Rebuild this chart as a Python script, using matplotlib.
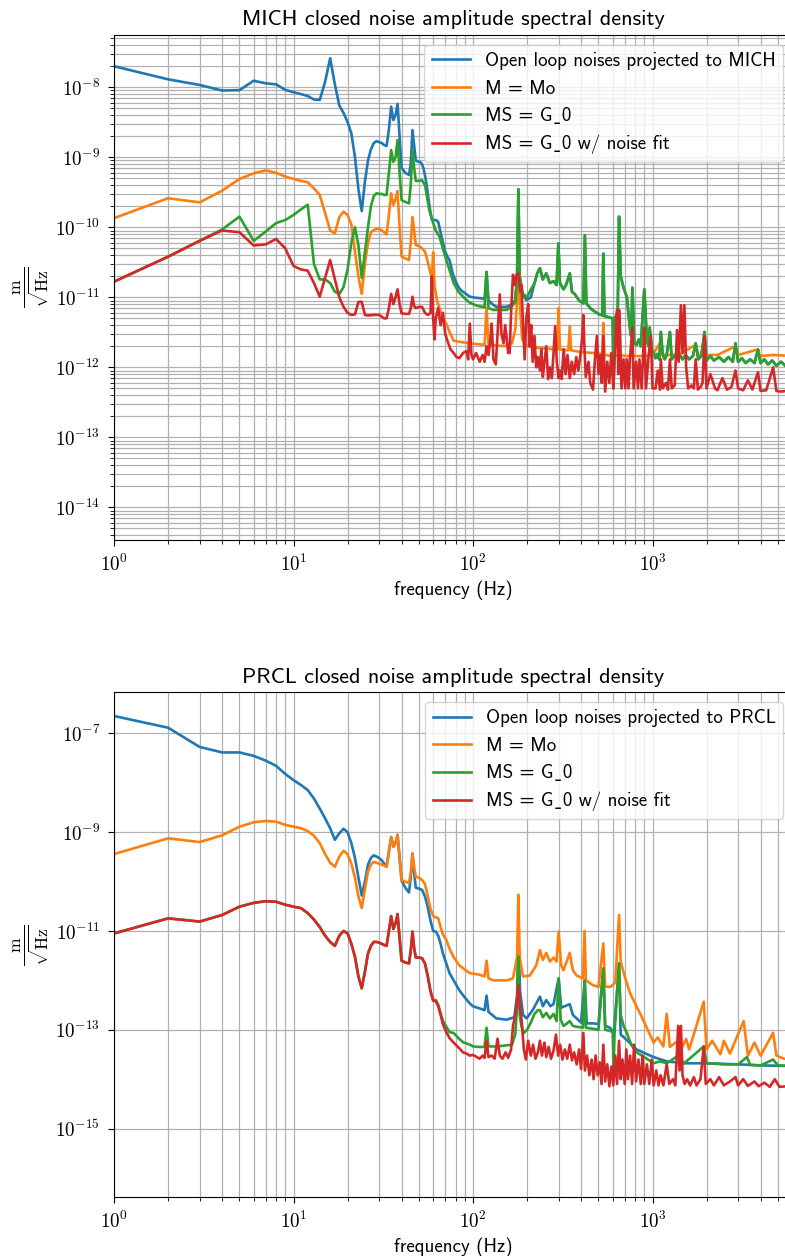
import numpy as np
import matplotlib
matplotlib.use("Agg")
import matplotlib.pyplot as plt
from matplotlib.ticker import FuncFormatter, LogLocator, FixedLocator, NullLocator, NullFormatter

# ---------------- MICH panel data (frequency Hz, amplitude m/rtHz) ----------------
mich_open_loop_low = [
    (1, 2.0e-8), (2, 1.3e-8), (3, 1.08e-8), (4, 9.0e-9), (5, 9.1e-9), (6, 1.24e-8),
    (7, 1.14e-8), (8, 1.1e-8), (9, 9.2e-9), (10, 8.5e-9), (11, 8.0e-9), (12, 7.5e-9),
    (13, 6.7e-9), (14, 6.6e-9), (15, 1.2e-8), (16, 2.6e-8), (17, 1.1e-8), (18, 5.5e-9),
    (19, 4.3e-9), (20, 3.2e-9), (21, 2.2e-9), (22, 1.0e-9), (23, 3.5e-10), (24, 1.7e-10),
    (25, 4.5e-10), (26, 9.0e-10), (27, 1.3e-9), (28, 1.6e-9), (29, 1.7e-9), (30, 1.65e-9),
    (31, 1.6e-9), (32, 1.5e-9), (33, 1.45e-9), (34, 2.5e-9), (35, 5.3e-9), (36, 3.4e-9),
    (37, 4.0e-9), (38, 5.8e-9), (39, 2.0e-9), (40, 7.0e-10), (41, 6.5e-10), (42, 6.0e-10),
    (43, 5.8e-10), (44, 5.6e-10), (45, 8.0e-10), (46, 2.45e-9), (47, 1.5e-9), (48, 9.0e-10),
    (49, 8.8e-10), (50, 8.6e-10), (51, 8.5e-10), (52, 8.0e-10), (53, 7.0e-10), (54, 5.5e-10),
    (55, 4.2e-10), (56, 3.0e-10), (57, 2.2e-10), (58, 1.6e-10), (59, 1.3e-10), (60, 1.27e-10),
    (62, 1.27e-10), (64, 1.2e-10), (66, 8.5e-11), (68, 6.0e-11), (70, 4.5e-11), (72, 3.8e-11),
    (74, 3.4e-11), (77, 2.2e-11), (80, 1.7e-11), (83, 1.4e-11), (86, 1.25e-11), (90, 1.15e-11),
    (96, 1.02e-11), (100, 1.0e-11), (105, 9.8e-12), (110, 9.7e-12), (116, 9.5e-12),
    (119, 2.3e-11), (122, 9.0e-12), (128, 8.0e-12), (135, 7.3e-12), (145, 7.3e-12),
    (154, 7.3e-12), (160, 7.6e-12), (167, 8.4e-12), (172, 9.0e-12), (176, 2.0e-11),
    (179, 3.5e-10), (182, 2.0e-11), (188, 1.1e-11), (199, 9.1e-12), (210, 1.0e-11),
]

mich_ms_g0 = [
    (1, 1.67e-11), (2, 3.8e-11), (3, 6.4e-11), (4, 9.3e-11), (5, 1.42e-10), (6, 6.4e-11),
    (7, 8.7e-11), (8, 1.15e-10), (9, 1.27e-10), (10, 1.5e-10), (11, 1.8e-10), (12, 2.1e-10),
    (13, 3.0e-11), (14, 1.8e-11), (15, 1.8e-11), (16, 1.6e-11), (17, 1.2e-11), (18, 1.12e-11),
    (19, 1.4e-11), (20, 2.5e-11), (21, 6.0e-11), (22, 1.0e-10), (23, 5.5e-11), (24, 1.9e-11),
    (25, 4.5e-11), (26, 1.0e-10), (27, 2.0e-10), (28, 2.8e-10), (29, 3.06e-10), (30, 3.0e-10),
    (31, 3.0e-10), (32, 2.9e-10), (33, 2.9e-10), (34, 6.0e-10), (35, 1.27e-9), (36, 8.6e-10),
    (37, 1.0e-9), (38, 1.77e-9), (39, 6.0e-10), (40, 2.45e-10), (42, 2.3e-10), (44, 2.2e-10),
    (45, 4.0e-10), (46, 1.27e-9), (47, 7.0e-10), (48, 4.6e-10), (50, 4.6e-10), (52, 4.7e-10),
    (54, 4.0e-10), (55, 3.06e-10), (57, 1.8e-10), (60, 1.15e-10), (62, 9.0e-11), (65, 7.4e-11),
    (68, 5.0e-11), (71, 3.4e-11), (75, 2.2e-11), (78, 1.6e-11), (83, 1.2e-11), (88, 1.02e-11),
    (95, 8.5e-12), (100, 8.0e-12), (105, 7.6e-12), (110, 7.4e-12), (116, 7.2e-12),
    (119, 2.3e-11), (122, 7.0e-12), (130, 6.6e-12), (140, 6.6e-12), (154, 6.6e-12),
    (165, 7.5e-12), (172, 8.5e-12), (176, 2.0e-11), (179, 3.5e-10), (182, 2.0e-11),
    (190, 1.12e-11), (200, 1.0e-11), (210, 1.3e-11), (220, 1.58e-11), (228, 2.2e-11),
    (236, 2.6e-11), (245, 1.8e-11), (256, 2.2e-11), (268, 1.6e-11), (281, 1.7e-11),
    (292, 1.5e-11), (299, 5.9e-11), (305, 1.6e-11), (319, 1.3e-11), (330, 1.5e-11),
    (346, 2.2e-11), (356, 1.2e-11), (370, 1.1e-11), (390, 9.0e-12), (412, 8.2e-12),
    (420, 7.7e-11), (428, 8.2e-12), (450, 7.0e-12), (466, 6.5e-12), (500, 5.8e-12),
    (525, 5.5e-12), (532, 4.2e-11), (540, 5.4e-12), (570, 5.2e-12), (600, 5.0e-12),
    (607, 5.0e-13), (615, 5.0e-12), (640, 6.0e-12), (651, 1.42e-10), (665, 2.0e-11),
    (690, 1.37e-11), (720, 1.0e-11), (745, 4.0e-12), (760, 2.8e-12), (773, 1.37e-11),
    (790, 2.2e-12), (815, 2.1e-12), (840, 2.5e-12), (860, 2.0e-12), (900, 1.3e-11),
    (930, 2.5e-12), (950, 2.0e-12), (965, 3.7e-12), (990, 1.8e-12), (1014, 1.6e-12),
    (1040, 1.35e-12), (1060, 1.55e-12), (1090, 1.3e-12), (1113, 3.2e-12), (1140, 1.5e-12),
    (1170, 1.3e-12), (1200, 1.5e-12), (1250, 3.2e-12), (1280, 1.3e-12), (1330, 1.5e-12),
    (1370, 1.3e-12), (1420, 1.5e-12), (1470, 1.3e-12), (1530, 1.5e-12), (1600, 1.3e-12),
    (1680, 1.45e-12), (1740, 2.2e-12), (1800, 1.3e-12), (1870, 1.45e-12), (1950, 3.2e-12),
    (2000, 1.25e-12), (2100, 1.45e-12), (2200, 1.25e-12), (2350, 1.4e-12), (2500, 1.2e-12),
    (2650, 1.4e-12), (2800, 1.2e-12), (2900, 2.2e-12), (3000, 1.2e-12), (3150, 1.35e-12),
    (3300, 1.15e-12), (3500, 1.3e-12), (3700, 1.15e-12), (3870, 1.8e-12), (4000, 1.15e-12),
    (4200, 1.3e-12), (4400, 1.1e-12), (4650, 1.25e-12), (4900, 1.05e-12), (5200, 1.2e-12),
    (5500, 1.05e-12), (5800, 1.15e-12), (6100, 1.05e-12),
]

mich_m_mo = [
    (1, 1.35e-10), (2, 2.6e-10), (3, 2.27e-10), (4, 3.33e-10), (5, 4.9e-10), (6, 5.9e-10),
    (7, 6.5e-10), (8, 6.0e-10), (9, 5.3e-10), (10, 4.9e-10), (11, 4.6e-10), (12, 4.4e-10),
    (13, 3.6e-10), (14, 2.9e-10), (15, 1.6e-10), (16, 9.0e-11), (17, 8.2e-11), (18, 1.4e-10),
    (19, 1.67e-10), (20, 1.5e-10), (21, 1.1e-10), (22, 4.5e-11), (23, 2.0e-11), (24, 1.12e-11),
    (25, 3.0e-11), (26, 6.0e-11), (27, 8.5e-11), (28, 9.1e-11), (29, 9.5e-11), (30, 9.5e-11),
    (31, 9.0e-11), (32, 8.5e-11), (33, 7.9e-11), (34, 1.5e-10), (35, 3.06e-10), (36, 2.1e-10),
    (37, 2.5e-10), (38, 3.3e-10), (39, 1.0e-10), (40, 3.8e-11), (42, 3.6e-11), (44, 3.4e-11),
    (45, 6.0e-11), (46, 1.4e-10), (47, 9.0e-11), (48, 5.6e-11), (50, 5.4e-11), (52, 5.0e-11),
    (54, 4.5e-11), (56, 3.2e-11), (58, 2.2e-11), (59, 2.0e-11), (60, 4.4e-11), (61, 1.5e-11),
    (63, 9.0e-12), (65, 7.0e-12), (68, 5.0e-12), (71, 4.2e-12), (74, 3.2e-12), (78, 2.4e-12),
    (85, 2.3e-12), (96, 2.2e-12), (105, 2.15e-12), (116, 2.1e-12), (119, 7.0e-12),
    (122, 2.1e-12), (135, 2.05e-12), (150, 2.0e-12), (165, 2.2e-12), (172, 3.5e-12),
    (176, 9.0e-12), (179, 2.1e-11), (183, 7.0e-12), (188, 2.5e-12), (200, 2.0e-12),
    (225, 1.9e-12), (260, 1.85e-12), (295, 1.8e-12), (300, 7.0e-12), (305, 1.8e-12),
    (340, 1.75e-12), (346, 3.9e-12), (352, 1.75e-12), (400, 1.65e-12), (466, 1.6e-12),
    (525, 1.55e-12), (532, 4.3e-12), (540, 1.5e-12), (600, 1.45e-12), (651, 1.5e-12),
    (720, 1.45e-12), (800, 1.45e-12), (900, 1.45e-12), (1000, 1.5e-12), (1100, 2.2e-12),
    (1150, 1.5e-12), (1400, 1.5e-12), (1740, 2.1e-12), (1800, 1.5e-12), (2300, 1.5e-12),
    (2900, 2.0e-12), (3000, 1.5e-12), (3870, 1.8e-12), (3950, 1.45e-12), (4700, 1.5e-12),
    (6100, 1.45e-12),
]

mich_ms_g0_fit = [
    (1, 1.67e-11), (2, 3.8e-11), (3, 6.4e-11), (4, 9.0e-11), (5, 8.5e-11), (6, 5.5e-11),
    (7, 5.7e-11), (8, 6.8e-11), (9, 5.0e-11), (10, 2.8e-11), (11, 2.5e-11), (12, 2.4e-11),
    (13, 1.6e-11), (14, 1.02e-11), (15, 1.9e-11), (16, 3.4e-11), (17, 1.8e-11), (18, 1.0e-11),
    (19, 7.3e-12), (20, 6.0e-12), (21, 5.6e-12), (22, 5.7e-12), (23, 8.6e-12), (24, 8.6e-12),
    (25, 5.6e-12), (26, 5.5e-12), (28, 5.6e-12), (30, 5.6e-12), (32, 5.0e-12), (33, 5.0e-12),
    (34, 7.0e-12), (35, 1.12e-11), (36, 8.0e-12), (37, 1.0e-11), (38, 1.3e-11), (39, 8.0e-12),
    (40, 5.9e-12), (42, 5.8e-12), (44, 5.8e-12), (45, 7.0e-12), (46, 1.02e-11), (47, 7.5e-12),
    (48, 7.0e-12), (50, 7.3e-12), (52, 7.3e-12), (54, 6.0e-12), (56, 5.6e-12), (58, 6.0e-12),
    (59, 2.0e-11), (60, 5.0e-12), (61, 2.5e-12), (62, 5.0e-12), (64, 7.0e-12), (66, 4.0e-12),
    (68, 6.0e-12), (70, 3.0e-12), (72, 2.4e-12), (75, 1.8e-12), (78, 1.6e-12), (81, 1.4e-12),
    (84, 1.35e-12), (88, 1.6e-12), (92, 1.7e-12), (94, 1.3e-12), (96, 4.2e-12), (98, 1.5e-12),
    (100, 1.3e-12), (104, 1.6e-12), (109, 1.2e-12), (113, 1.5e-12), (116, 1.2e-12),
    (119, 2.0e-12), (122, 1.5e-12), (125, 2.5e-12), (127, 4.2e-12), (130, 1.3e-12),
    (134, 1.1e-12), (137, 3.0e-12), (141, 1.1e-11), (144, 3.0e-12), (148, 2.2e-12),
    (151, 4.0e-12), (154, 2.6e-12), (157, 1.6e-12), (160, 1.6e-12), (163, 6.0e-12),
    (167, 2.1e-11), (171, 1.5e-11), (175, 2.1e-11), (179, 2.2e-11), (183, 1.2e-11),
    (186, 1.5e-11), (190, 4.0e-12), (194, 1.3e-12), (198, 5.0e-12), (203, 8.0e-12),
    (207, 2.0e-12), (211, 4.0e-12), (215, 1.2e-12), (220, 2.8e-12), (225, 1.0e-12),
    (230, 1.4e-12), (236, 9.0e-13), (240, 1.8e-12), (245, 7.3e-13), (250, 1.2e-12),
    (256, 2.0e-12), (262, 6.8e-13), (268, 1.0e-12), (275, 7.0e-13), (281, 1.6e-12),
    (287, 3.9e-12), (293, 1.2e-12), (300, 7.0e-13), (305, 9.0e-13), (312, 6.8e-13),
    (320, 1.8e-12), (328, 8.0e-13), (336, 1.5e-12), (346, 7.0e-13), (355, 1.2e-12),
    (366, 8.0e-13), (376, 1.4e-12), (386, 9.0e-13), (398, 1.6e-12), (405, 2.5e-12),
    (412, 5.6e-12), (418, 1.8e-12), (425, 7.3e-13), (440, 1.2e-12), (450, 6.0e-13),
    (466, 4.8e-13), (478, 1.3e-12), (490, 2.8e-12), (500, 8.0e-13), (512, 1.5e-12),
    (522, 6.0e-13), (532, 2.8e-12), (545, 4.5e-13), (560, 1.2e-12), (575, 6.0e-13),
    (590, 1.6e-12), (605, 5.0e-13), (615, 1.3e-12), (625, 3.5e-12), (635, 6.6e-12),
    (645, 8.0e-13), (651, 6.6e-12), (660, 3.0e-12), (672, 5.0e-13), (690, 1.3e-12),
    (705, 5.0e-13), (720, 1.3e-12), (735, 5.0e-13), (750, 1.4e-12), (773, 3.7e-12),
    (785, 5.0e-13), (810, 1.2e-12), (830, 5.0e-13), (845, 1.3e-12), (870, 5.0e-13),
    (900, 3.7e-12), (920, 5.0e-13), (950, 1.4e-12), (980, 2.8e-12), (1000, 5.0e-13),
    (1040, 5.0e-13), (1070, 9.0e-13), (1100, 4.8e-13), (1113, 1.3e-12), (1140, 5.0e-13),
    (1190, 6.0e-13), (1220, 4.8e-13), (1250, 1.3e-12), (1280, 5.0e-13), (1330, 5.5e-13),
    (1370, 3.4e-12), (1400, 1.2e-12), (1440, 7.7e-12), (1470, 1.6e-12), (1505, 7.7e-12),
    (1540, 1.0e-12), (1580, 5.0e-13), (1650, 5.5e-13), (1700, 5.0e-13), (1740, 1.3e-12),
    (1790, 4.8e-13), (1850, 5.2e-13), (1900, 6.0e-13), (1950, 2.8e-12), (2000, 5.0e-13),
    (2100, 8.0e-13), (2230, 5.0e-13), (2300, 4.7e-13), (2450, 7.0e-13), (2600, 4.8e-13),
    (2750, 5.2e-13), (2900, 9.0e-13), (3000, 5.0e-13), (3200, 4.7e-13), (3400, 6.5e-13),
    (3600, 4.8e-13), (3870, 8.5e-13), (4000, 4.6e-13), (4300, 4.7e-13), (4700, 1.0e-12),
    (4900, 4.6e-13), (5200, 4.5e-13), (5600, 4.6e-13), (6100, 4.5e-13),
]

# ---------------- PRCL panel data ----------------
prcl_open_loop = [
    (1, 2.24e-7), (2, 1.3e-7), (3, 5.3e-8), (4, 4.1e-8), (5, 4.1e-8), (6, 3.5e-8),
    (7, 2.8e-8), (8, 2.2e-8), (9, 1.5e-8), (10, 1.13e-8), (11, 9.0e-9), (12, 7.1e-9),
    (13, 4.8e-9), (14, 3.0e-9), (15, 1.9e-9), (16, 1.2e-9), (17, 7.0e-10), (18, 9.5e-10),
    (19, 1.17e-9), (20, 1.0e-9), (21, 6.0e-10), (22, 3.0e-10), (23, 1.2e-10), (24, 5.2e-11),
    (25, 1.0e-10), (26, 2.2e-10), (27, 3.0e-10), (28, 3.4e-10), (29, 3.2e-10), (30, 3.0e-10),
    (31, 2.7e-10), (32, 2.3e-10), (33, 2.0e-10), (34, 4.0e-10), (35, 8.0e-10), (36, 5.1e-10),
    (37, 6.0e-10), (38, 8.8e-10), (39, 3.0e-10), (40, 1.05e-10), (42, 7.5e-11), (44, 6.0e-11),
    (45, 1.2e-10), (46, 3.7e-10), (47, 1.5e-10), (48, 7.5e-11), (50, 7.2e-11), (52, 6.8e-11),
    (54, 5.0e-11), (56, 3.0e-11), (58, 1.6e-11), (60, 1.0e-11), (62, 9.7e-12), (64, 8.0e-12),
    (66, 5.5e-12), (68, 3.5e-12), (71, 2.2e-12), (74, 1.4e-12), (78, 1.0e-12), (84, 6.3e-13),
    (88, 5.0e-13), (96, 3.4e-13), (100, 3.0e-13), (109, 2.7e-13), (116, 2.5e-13),
    (119, 4.9e-13), (122, 2.3e-13), (135, 1.7e-13), (154, 1.6e-13), (170, 1.8e-13),
    (176, 5.0e-13), (179, 7.0e-12), (183, 6.0e-13), (190, 2.0e-13), (199, 1.7e-13),
    (215, 2.5e-13), (236, 4.7e-13), (245, 3.0e-13), (256, 4.0e-13), (270, 3.0e-13),
    (281, 3.3e-13), (300, 1.1e-12), (310, 2.8e-13), (346, 3.3e-13), (360, 2.0e-13),
    (400, 1.4e-13), (420, 1.0e-12), (430, 1.35e-13), (466, 1.35e-13), (500, 1.3e-13),
    (532, 1.75e-12), (545, 1.2e-13), (580, 1.1e-13), (610, 8.6e-14), (651, 2.2e-12),
    (665, 8.0e-14), (720, 6.2e-14), (815, 4.0e-14), (1015, 2.8e-14), (1200, 2.3e-14),
    (1500, 2.1e-14), (2000, 2.1e-14), (3000, 2.0e-14), (4000, 1.9e-14), (6100, 1.85e-14),
]

prcl_m_mo = [
    (1, 3.6e-10), (2, 7.5e-10), (3, 6.3e-10), (4, 8.6e-10), (5, 1.29e-9), (6, 1.58e-9),
    (7, 1.68e-9), (8, 1.63e-9), (9, 1.4e-9), (10, 1.29e-9), (11, 1.2e-9), (12, 1.05e-9),
    (13, 8.5e-10), (14, 6.0e-10), (15, 3.6e-10), (16, 2.4e-10), (17, 2.0e-10), (18, 3.2e-10),
    (19, 4.2e-10), (20, 3.6e-10), (21, 2.3e-10), (22, 1.2e-10), (23, 5.0e-11), (24, 2.9e-11),
    (25, 7.0e-11), (26, 1.6e-10), (27, 2.2e-10), (28, 2.5e-10), (29, 2.4e-10), (30, 2.3e-10),
    (31, 2.2e-10), (32, 2.1e-10), (33, 2.0e-10), (34, 4.0e-10), (35, 7.9e-10), (36, 5.0e-10),
    (37, 6.0e-10), (38, 8.8e-10), (39, 3.0e-10), (40, 1.07e-10), (42, 1.0e-10), (44, 9.3e-11),
    (45, 1.5e-10), (46, 3.7e-10), (47, 2.0e-10), (48, 1.25e-10), (50, 1.2e-10), (52, 1.07e-10),
    (54, 9.0e-11), (56, 5.0e-11), (58, 2.8e-11), (60, 2.0e-11), (62, 1.9e-11), (64, 1.8e-11),
    (66, 1.2e-11), (68, 8.5e-12), (71, 6.6e-12), (74, 4.4e-12), (78, 2.95e-12), (84, 2.0e-12),
    (96, 1.4e-12), (109, 1.3e-12), (116, 1.2e-12), (119, 2.5e-12), (122, 1.1e-12),
    (130, 1.0e-12), (154, 1.0e-12), (167, 1.1e-12), (176, 3.0e-12), (179, 5.4e-11),
    (182, 3.0e-12), (190, 1.2e-12), (207, 1.25e-12), (225, 2.0e-12), (236, 4.1e-12),
    (245, 2.6e-12), (256, 3.6e-12), (268, 2.4e-12), (281, 2.9e-12), (292, 2.4e-12),
    (300, 9.7e-12), (310, 2.0e-12), (319, 1.6e-12), (346, 3.6e-12), (360, 1.6e-12),
    (378, 1.25e-12), (410, 1.1e-12), (418, 1.0e-11), (426, 1.0e-12), (466, 8.0e-13),
    (500, 7.4e-13), (532, 5.6e-12), (545, 7.5e-13), (583, 7.4e-13), (620, 9.0e-13),
    (651, 2.1e-11), (665, 2.4e-12), (700, 1.2e-12), (750, 5.5e-13), (855, 2.1e-13),
    (1015, 5.5e-14), (1070, 7.0e-14), (1150, 4.6e-14), (1200, 2.1e-13), (1250, 4.5e-14),
    (1390, 6.0e-14), (1450, 4.2e-14), (1540, 6.5e-14), (1600, 4.0e-14), (1930, 3.7e-13),
    (2000, 4.0e-14), (2150, 6.0e-14), (2390, 3.2e-14), (2500, 6.0e-14), (2700, 3.3e-14),
    (3220, 1.5e-13), (3400, 3.0e-14), (3700, 5.5e-14), (4000, 3.0e-14), (4500, 6.5e-14),
    (4700, 8.7e-14), (4900, 3.0e-14), (5400, 2.6e-14), (6100, 2.4e-14),
]

prcl_ms_g0_fit = [
    (1, 8.9e-12), (2, 1.8e-11), (3, 1.55e-11), (4, 2.1e-11), (5, 3.1e-11), (6, 3.7e-11),
    (7, 4.0e-11), (8, 3.9e-11), (9, 3.4e-11), (10, 3.1e-11), (11, 2.9e-11), (12, 2.3e-11),
    (13, 1.7e-11), (14, 1.2e-11), (15, 8.0e-12), (16, 6.0e-12), (17, 5.0e-12), (18, 8.0e-12),
    (19, 1.0e-11), (20, 9.0e-12), (21, 5.5e-12), (22, 3.0e-12), (23, 1.2e-12), (24, 6.9e-13),
    (25, 1.5e-12), (26, 3.5e-12), (27, 5.0e-12), (28, 6.0e-12), (29, 6.0e-12), (30, 5.8e-12),
    (31, 5.5e-12), (32, 5.2e-12), (33, 5.0e-12), (34, 1.0e-11), (35, 2.0e-11), (36, 1.1e-11),
    (37, 1.4e-11), (38, 2.2e-11), (39, 7.0e-12), (40, 2.5e-12), (42, 2.3e-12), (44, 2.2e-12),
    (45, 4.0e-12), (46, 9.7e-12), (47, 4.5e-12), (48, 2.9e-12), (50, 2.9e-12), (52, 2.8e-12),
    (54, 2.2e-12), (56, 1.2e-12), (58, 6.0e-13), (60, 3.9e-13), (62, 3.8e-13), (64, 3.0e-13),
    (66, 2.0e-13), (68, 1.3e-13), (71, 9.0e-14), (74, 6.8e-14), (78, 5.5e-14), (84, 4.2e-14),
    (88, 3.5e-14), (92, 3.3e-14), (96, 3.0e-14), (100, 3.1e-14), (105, 2.8e-14),
    (109, 2.6e-14), (113, 3.0e-14), (116, 2.7e-14), (119, 6.0e-14), (122, 2.8e-14),
    (127, 3.0e-14), (132, 2.6e-14), (137, 6.6e-14), (141, 3.0e-14), (146, 2.6e-14),
    (152, 3.5e-14), (157, 2.7e-14), (163, 4.0e-14), (167, 1.2e-13), (172, 2.0e-13),
    (176, 4.0e-13), (179, 8.0e-13), (183, 3.0e-13), (187, 1.4e-13), (192, 4.0e-14),
    (197, 2.5e-14), (203, 6.0e-14), (210, 3.0e-14), (216, 5.0e-14), (223, 2.6e-14),
    (230, 3.5e-14), (236, 6.0e-14), (242, 3.0e-14), (250, 5.5e-14), (256, 2.8e-14),
    (264, 4.5e-14), (272, 2.6e-14), (281, 3.8e-14), (290, 8.0e-14), (298, 3.0e-14),
    (306, 5.0e-14), (315, 2.5e-14), (325, 4.0e-14), (335, 2.6e-14), (346, 5.0e-14),
    (356, 2.4e-14), (366, 3.5e-14), (378, 2.0e-14), (390, 4.0e-14), (400, 1.6e-14),
    (412, 8.6e-14), (420, 1.5e-14), (432, 3.0e-14), (445, 1.2e-14), (458, 2.5e-14),
    (470, 1.0e-14), (482, 3.0e-14), (495, 1.2e-14), (508, 2.2e-14), (520, 8.0e-15),
    (532, 5.0e-14), (545, 9.0e-15), (560, 2.0e-14), (575, 7.2e-15), (590, 1.8e-14),
    (605, 7.5e-15), (620, 3.0e-14), (635, 8.0e-15), (651, 6.0e-14), (665, 1.0e-14),
    (680, 2.5e-14), (700, 8.0e-15), (715, 4.0e-14), (730, 1.0e-14), (750, 3.0e-14),
    (770, 8.0e-15), (790, 5.0e-14), (810, 9.0e-15), (835, 2.5e-14), (860, 8.0e-15),
    (880, 3.0e-14), (900, 8.0e-15), (930, 2.0e-14), (960, 8.0e-15), (990, 2.5e-14),
    (1015, 7.5e-15), (1050, 1.5e-14), (1080, 7.5e-15), (1110, 1.2e-14), (1150, 7.5e-15),
    (1200, 2.0e-14), (1240, 8.0e-15), (1300, 1.0e-14), (1340, 7.5e-15), (1390, 1.2e-13),
    (1415, 1.5e-14), (1440, 1.2e-13), (1470, 1.2e-14), (1510, 8.0e-15), (1560, 1.0e-14),
    (1620, 7.5e-15), (1700, 1.1e-14), (1760, 7.5e-15), (1850, 1.0e-14), (1930, 4.6e-14),
    (1980, 8.0e-15), (2100, 1.0e-14), (2200, 7.5e-15), (2350, 1.1e-14), (2500, 7.5e-15),
    (2700, 9.0e-15), (2900, 1.1e-14), (3000, 7.5e-15), (3200, 1.0e-14), (3400, 7.3e-15),
    (3700, 9.0e-15), (3900, 7.2e-15), (4200, 8.5e-15), (4500, 7.0e-15), (4800, 1.0e-14),
    (5100, 7.0e-15), (5600, 7.2e-15), (6100, 7.0e-15),
]

prcl_ms_g0_high = [
    (62, 4.0e-13), (64, 3.2e-13), (68, 1.5e-13), (74, 9.0e-14), (78, 8.6e-14), (84, 6.5e-14),
    (88, 5.6e-14), (96, 5.0e-14), (100, 4.6e-14), (109, 4.5e-14), (116, 4.5e-14),
    (119, 1.1e-13), (122, 4.6e-14), (135, 4.6e-14), (150, 4.8e-14), (165, 5.0e-14),
    (172, 8.0e-14), (176, 3.0e-13), (179, 3.0e-12), (182, 2.0e-13), (186, 1.2e-13),
    (192, 8.6e-14), (200, 1.0e-13), (210, 1.4e-13), (220, 2.1e-13), (230, 2.5e-13),
    (236, 2.5e-13), (245, 1.8e-13), (256, 2.2e-13), (268, 1.7e-13), (281, 2.1e-13),
    (292, 1.5e-13), (300, 1.1e-12), (308, 1.6e-13), (319, 1.2e-13), (330, 1.3e-13),
    (346, 1.5e-13), (360, 1.2e-13), (380, 1.15e-13), (410, 1.1e-13), (418, 1.0e-12),
    (426, 1.1e-13), (466, 1.05e-13), (500, 1.0e-13), (532, 1.75e-12), (545, 1.0e-13),
    (580, 9.5e-14), (600, 9.0e-14), (607, 1.6e-14), (615, 9.0e-14), (651, 2.2e-12),
    (665, 2.0e-13), (690, 1.2e-13), (720, 8.6e-14), (760, 5.0e-14), (815, 3.5e-14),
    (900, 2.8e-14), (1015, 2.1e-14), (1100, 2.3e-14), (1200, 2.1e-14), (1390, 3.0e-14),
    (1500, 2.1e-14), (1930, 4.6e-14), (2000, 2.1e-14), (2500, 2.0e-14), (3000, 2.0e-14),
    (3360, 2.8e-14), (3500, 1.95e-14), (4000, 1.9e-14), (4700, 2.5e-14), (5000, 1.9e-14),
    (6100, 1.85e-14),
]

USC = "\u02cd"  # low line glyph (LaTeX-style underscore)
mich_labels = ["Open loop noises projected to MICH", "M = Mo", "MS = G" + USC + "0",
               "MS = G" + USC + "0 w/ noise fit"]
prcl_labels = ["Open loop noises projected to PRCL", "M = Mo", "MS = G" + USC + "0",
               "MS = G" + USC + "0 w/ noise fit"]
titles = ["MICH closed noise amplitude spectral density", "PRCL closed noise amplitude spectral density"]
colors = ["#1f77b4", "#ff7f0e", "#2ca02c", "#d62728"]

# ---------------- assemble series ----------------
def unzip(pairs):
    f, v = zip(*pairs)
    return np.array(f, float), np.array(v, float)

# blue MICH trace lies under the green one above ~210 Hz
mich_ol = mich_open_loop_low + [p for p in mich_ms_g0 if p[0] > 210]
prcl_g0 = [p for p in prcl_ms_g0_fit if p[0] <= 60] + prcl_ms_g0_high

mich_series = [mich_ol, mich_m_mo, mich_ms_g0, mich_ms_g0_fit]
prcl_series = [prcl_open_loop, prcl_m_mo, prcl_g0, prcl_ms_g0_fit]

# ---------------- styling ----------------
plt.rcParams["font.family"] = ["cmss10", "DejaVu Sans"]
plt.rcParams["mathtext.fontset"] = "cm"
plt.rcParams["font.size"] = 13.7
plt.rcParams["axes.unicode_minus"] = False

fig = plt.figure(figsize=(7.85, 12.56), dpi=100)
ax1 = fig.add_axes([114 / 785, 1 - 540 / 1256, (793 - 114) / 785, 505 / 1256])
ax2 = fig.add_axes([114 / 785, 1 - 1197.3 / 1256, (793 - 114) / 785, 505 / 1256])

pow_fmt = FuncFormatter(lambda v, p: r"$10^{%d}$" % int(round(np.log10(v))))

for ax, series, labels, title in [(ax1, mich_series, mich_labels, titles[0]),
                                  (ax2, prcl_series, prcl_labels, titles[1])]:
    for s, lab, c in zip(series, labels, colors):
        f, v = unzip(s)
        ax.loglog(f, v, color=c, lw=1.9, label=lab)
    ax.set_xlim(1, 10 ** ((793 - 114) / 179.5))
    ax.set_title(title, fontsize=16.0, pad=7)
    ax.set_xlabel("frequency (Hz)", fontsize=13.7, labelpad=4)
    ax.set_ylabel(r"$\frac{\rm m}{\sqrt{\rm Hz}}$", fontsize=18, labelpad=2)
    ax.xaxis.set_major_formatter(pow_fmt)
    ax.xaxis.set_minor_formatter(NullFormatter())
    ax.tick_params(labelsize=13.7)
    ax.tick_params(which="major", length=4.5, pad=5.5)
    ax.tick_params(which="minor", length=2.6)
    ax.grid(True, which="both", color="#b0b0b0", lw=0.9)
    ax.legend(loc="upper right", fontsize=13.7, framealpha=0.8, handlelength=2.0,
              borderaxespad=0.5)

ax1.set_ylim(10 ** -14.467, 10 ** -7.253)
ax1.yaxis.set_major_locator(LogLocator(base=10, numticks=20))
ax1.yaxis.set_minor_locator(LogLocator(base=10, subs=np.arange(2, 10), numticks=20))
ax1.yaxis.set_major_formatter(pow_fmt)
ax1.yaxis.set_minor_formatter(NullFormatter())

ax2.set_ylim(10 ** -16.39, 10 ** -6.17)
ax2.yaxis.set_major_locator(FixedLocator([1e-7, 1e-9, 1e-11, 1e-13, 1e-15]))
ax2.yaxis.set_minor_locator(NullLocator())
ax2.yaxis.set_major_formatter(pow_fmt)

fig.savefig("out.png", dpi=100)
